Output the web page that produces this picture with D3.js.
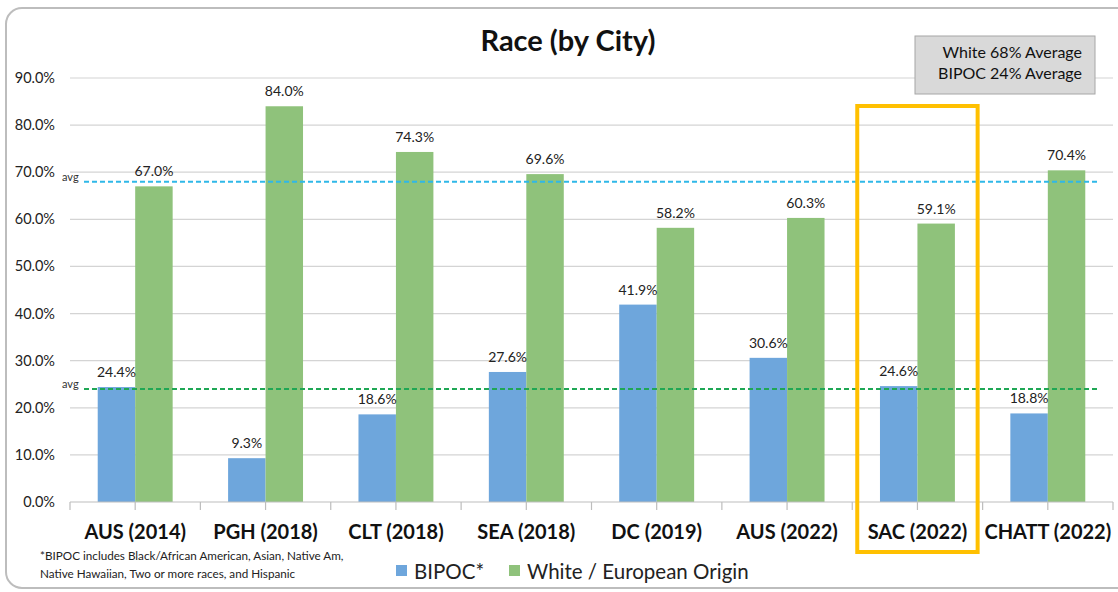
<!DOCTYPE html>
<html><head><meta charset="utf-8">
<script src="https://cdn.jsdelivr.net/npm/d3@7/dist/d3.min.js"></script>
<style>body{margin:0;background:#fff}svg{display:block;font-family:Lato,"Open Sans",sans-serif}</style>
</head><body><svg id="c" width="1118" height="592"></svg>
<script>
const categories = ["AUS (2014)","PGH (2018)","CLT (2018)","SEA (2018)","DC (2019)","AUS (2022)","SAC (2022)","CHATT (2022)"];
const bipoc = [24.4, 9.3, 18.6, 27.6, 41.9, 30.6, 24.6, 18.8];
const white = [67.0, 84.0, 74.3, 69.6, 58.2, 60.3, 59.1, 70.4];
const seriesNames = ["BIPOC*", "White / European Origin"];
const yTicks = [0,10,20,30,40,50,60,70,80,90];
const averages = [68, 24];
const avgText = ["White 68% Average", "BIPOC 24% Average"];
const highlight = "SAC (2022)";
const footnote = ["*BIPOC includes Black/African American, Asian, Native Am,", "Native Hawaiian, Two or more races, and Hispanic"];

(function(){
const svg = d3.select("#c");
const colors = ["#6ea6dc", "#8fc27b"];
const avgColors = ["#2fb8e8", "#1fa755"];

svg.append("rect").attr("x",6).attr("y",8).attr("width",1130).attr("height",580)
  .attr("rx",16).attr("fill","none").attr("stroke","#bdbdbd").attr("stroke-width",2);

const pL = 70, pR = 1113, pT = 78, pB = 502;
const x = d3.scaleBand().domain(categories).range([pL, pR]).paddingInner(0).paddingOuter(0);
const y = d3.scaleLinear().domain([0, 90]).range([pB, pT]);
const inner = d3.scaleBand().domain([0,1]).range([0, x.bandwidth()]).paddingInner(0).paddingOuter(0.74);

svg.append("g").selectAll("line").data(yTicks.filter(d=>d>0)).join("line")
  .attr("x1", pL).attr("x2", pR).attr("y1", d=>y(d)).attr("y2", d=>y(d))
  .attr("stroke","#d4d4d4").attr("stroke-width",1.2);

svg.append("g").selectAll("text").data(yTicks).join("text")
  .attr("x", 55).attr("y", d=>y(d)+5).attr("text-anchor","end")
  .attr("font-size",14.5).attr("fill","#222").text(d=>d.toFixed(1)+"%");

const groups = svg.append("g").selectAll("g").data(categories).join("g")
  .attr("transform", d=>`translate(${x(d)},0)`);
[bipoc, white].forEach((vals, si) => {
  groups.append("rect")
    .attr("x", inner(si)).attr("width", inner.bandwidth())
    .attr("y", (d,i)=>y(vals[i])).attr("height", (d,i)=>pB - y(vals[i]))
    .attr("fill", colors[si]);
});

svg.append("line").attr("x1",pL).attr("x2",pR).attr("y1",pB).attr("y2",pB)
  .attr("stroke","#bdbdbd").attr("stroke-width",1.2);
const tickXs = [];
categories.forEach(c => { tickXs.push(x(c)); tickXs.push(x(c)+x.bandwidth()/2); });
tickXs.push(pR);
svg.append("g").selectAll("line").data(tickXs).join("line")
  .attr("x1",d=>d).attr("x2",d=>d).attr("y1",pB).attr("y2",pB+8)
  .attr("stroke","#bdbdbd").attr("stroke-width",1.2);
svg.append("g").selectAll("text").data(categories).join("text")
  .attr("x", d=>x(d)+x.bandwidth()/2).attr("y", 539).attr("text-anchor","middle")
  .attr("font-size",20).attr("font-weight","bold").attr("fill","#111").text(d=>d);

averages.forEach((a, i) => {
  svg.append("line").attr("x1",84).attr("x2",1098).attr("y1",y(a)).attr("y2",y(a))
    .attr("stroke",avgColors[i]).attr("stroke-width",2).attr("stroke-dasharray","5,3");
  svg.append("text").attr("x",62).attr("y",y(a)-1).attr("font-size",11).attr("fill","#333").text("avg");
});

[bipoc, white].forEach((vals, si) => {
  groups.append("text")
    .attr("x", inner(si)+inner.bandwidth()/2).attr("y", (d,i)=>y(vals[i]) - 10)
    .attr("text-anchor","middle").attr("font-size",14).attr("fill","#222")
    .text((d,i)=>vals[i].toFixed(1)+"%");
});

svg.append("text").attr("x",568).attr("y",51).attr("text-anchor","middle")
  .attr("font-size",29).attr("font-weight","bold").attr("fill","#111").text("Race (by City)");

svg.append("rect").attr("x",915).attr("y",36).attr("width",180).attr("height",58)
  .attr("fill","#d9d9d9").attr("stroke","#a6a6a6").attr("stroke-width",1);
avgText.forEach((t,i)=>{
  svg.append("text").attr("x",1082).attr("y",58+i*21).attr("text-anchor","end")
    .attr("font-size",16).attr("fill","#111").text(t);
});

svg.append("rect").attr("x", x(highlight)+5).attr("y",106).attr("width", x.bandwidth()-10).attr("height",446)
  .attr("fill","none").attr("stroke","#ffc000").attr("stroke-width",4);

footnote.forEach((t,i)=>{
  svg.append("text").attr("x",40).attr("y",560+i*18).attr("font-size",11.7).attr("fill","#222").text(t);
});

const legX = [396, 509];
seriesNames.forEach((n,i)=>{
  svg.append("rect").attr("x",legX[i]).attr("y",565).attr("width",11).attr("height",11).attr("fill",colors[i]);
  svg.append("text").attr("x",legX[i]+18).attr("y",579).attr("font-size",20.5).attr("fill","#222").text(n);
});
})();
</script></body></html>
